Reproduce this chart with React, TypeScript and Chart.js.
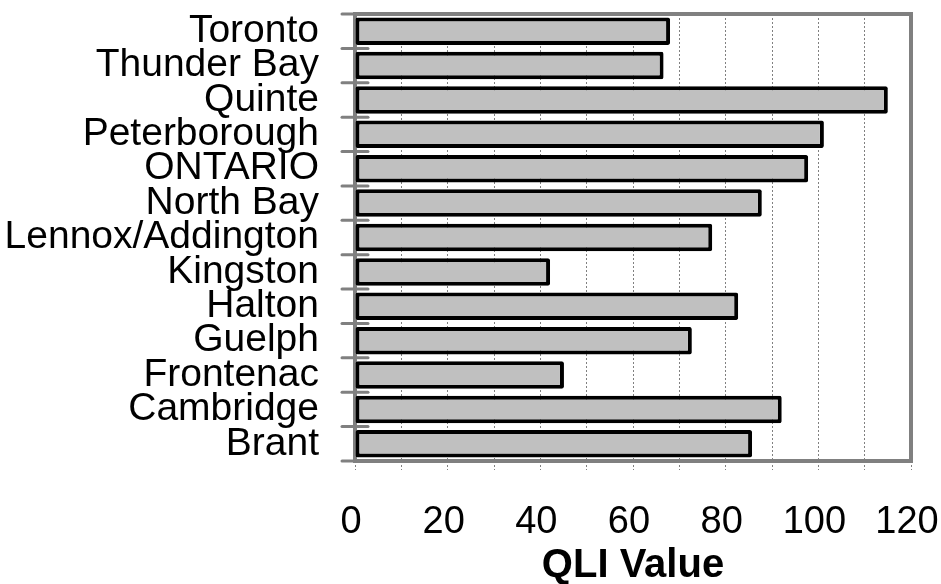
import React, { useEffect, useRef } from 'react';
import { Chart, registerables } from 'chart.js';

Chart.register(...registerables);

const categories: string[] = [
  'Toronto',
  'Thunder Bay',
  'Quinte',
  'Peterborough',
  'ONTARIO',
  'North Bay',
  'Lennox/Addington',
  'Kingston',
  'Halton',
  'Guelph',
  'Frontenac',
  'Cambridge',
  'Brant',
];

const qliValues: number[] = [68, 66.6, 115, 101.2, 97.8, 87.8, 77.1, 42.1, 82.7, 72.7, 45.1, 92.1, 85.7];

const xTickLabels: number[] = [0, 20, 40, 60, 80, 100, 120];

const axisTitle = 'QLI Value';

const FONT = "'Liberation Sans', Arial, Helvetica, sans-serif";
const GREY = '#808080';

const framePlugin = {
  id: 'frameAndTicks',
  beforeDatasetsDraw(chart: any) {
    const { ctx, chartArea } = chart;
    const { left, top, right, bottom } = chartArea;
    ctx.save();
    ctx.strokeStyle = GREY;
    ctx.lineWidth = 4;
    ctx.strokeRect(left, top, right - left, bottom - top);

    // category boundary ticks crossing the left axis
    const ys = chart.scales.y;
    const n = ys.getLabels().length;
    const p = (i: number) => ys.getPixelForValue(i);
    const step = n > 1 ? p(1) - p(0) : bottom - top;
    ctx.lineWidth = 3;
    ctx.lineCap = 'round';
    for (let i = 0; i <= n; i++) {
      const y = p(0) + (i - 0.5) * step;
      ctx.beginPath();
      ctx.moveTo(left - 13, y);
      ctx.lineTo(left + 13, y);
      ctx.stroke();
    }
    ctx.restore();
  },
};

export default function App() {
  const canvasRef = useRef<HTMLCanvasElement | null>(null);

  useEffect(() => {
    document.body.style.margin = '0';
    const canvas = canvasRef.current;
    if (!canvas) return;
    const chart = new Chart(canvas, {
      type: 'bar',
      data: {
        labels: categories,
        datasets: [
          {
            data: qliValues,
            backgroundColor: '#c0c0c0',
            borderColor: '#000000',
            borderWidth: 4,
            borderSkipped: false,
            borderRadius: 2,
            barPercentage: 0.8,
            categoryPercentage: 1,
          },
        ],
      },
      options: {
        indexAxis: 'y',
        responsive: false,
        animation: false,
        events: [],
        layout: { padding: { top: 14, right: 30, left: 0, bottom: 0 } },
        plugins: {
          legend: { display: false },
          tooltip: { enabled: false },
          title: { display: false },
        },
        scales: {
          x: {
            type: 'linear',
            min: 0,
            max: 120,
            ticks: {
              stepSize: 10,
              autoSkip: false,
              maxRotation: 0,
              padding: 30,
              labelOffset: -4,
              color: '#000000',
              font: { family: FONT, size: 38 },
              callback: (v: any) => (xTickLabels.includes(Number(v)) ? String(v) : ''),
            },
            grid: {
              color: GREY,
              lineWidth: 1,
              tickLength: 9,
              tickColor: GREY,
              tickWidth: 1,
              tickBorderDash: [2, 2],
            },
            border: { display: false, dash: [2, 2] },
            title: {
              display: true,
              text: axisTitle,
              color: '#000000',
              font: { family: FONT, size: 40, weight: 'bold', lineHeight: 0.9 },
              padding: { top: 0, bottom: 0 },
            },
            afterFit: (scale: any) => {
              scale.height = 123;
              scale.paddingLeft = 0;
              scale.paddingRight = 0;
            },
          },
          y: {
            type: 'category',
            offset: true,
            ticks: {
              autoSkip: false,
              padding: 22,
              color: '#000000',
              font: { family: FONT, size: 39 },
            },
            grid: {
              display: true,
              drawOnChartArea: false,
              drawTicks: true,
              tickLength: 14,
              color: 'rgba(0,0,0,0)',
              tickColor: 'rgba(0,0,0,0)',
              offset: true,
            },
            border: { display: false },
            afterFit: (scale: any) => {
              scale.width = 355;
              scale.paddingTop = 0;
              scale.paddingBottom = 0;
            },
          },
        },
      },
      plugins: [framePlugin],
    });
    return () => chart.destroy();
  }, []);

  return (
    <div style={{ width: 941, height: 584 }}>
      <canvas ref={canvasRef} width={941} height={584} />
    </div>
  );
}
